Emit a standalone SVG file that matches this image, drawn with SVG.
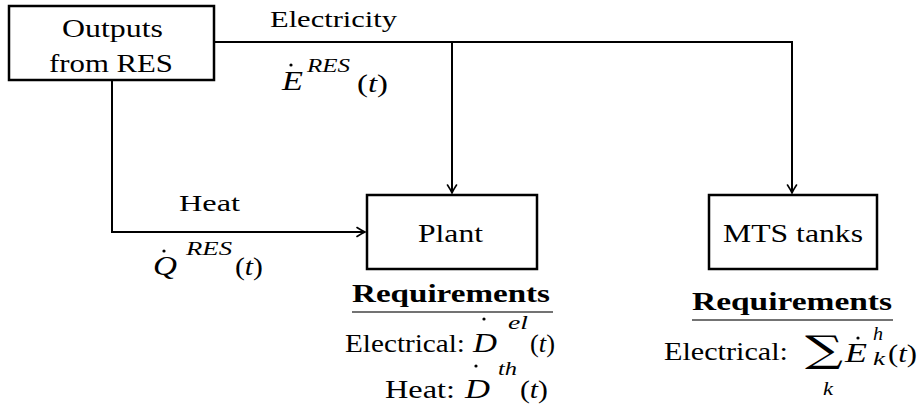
<svg xmlns="http://www.w3.org/2000/svg" width="921" height="412" viewBox="0 0 921 412" font-family="'Liberation Serif', 'DejaVu Serif', serif">
<defs>
<style>
.box{fill:#fff;stroke:#000;stroke-width:2.5}
.ln{fill:none;stroke:#000;stroke-width:2}
.it{font-style:italic}
.b{font-weight:bold}
.ul{stroke:#444;stroke-width:1.6}
.dot{fill:#000}
</style>
<marker id="arr" viewBox="-10 -6 12 12" refX="0" refY="0" markerWidth="12" markerHeight="12" markerUnits="userSpaceOnUse" orient="auto">
<path d="M-8,-4.5 Q-3,-1.2 0,0 Q-3,1.2 -8,4.5" fill="none" stroke="#000" stroke-width="1.6" stroke-linecap="round"/>
</marker>
</defs>
<rect width="921" height="412" fill="#fff"/>
<g id="connectors">
<path class="ln" d="M214,42 H792 V193" marker-end="url(#arr)"/>
<path class="ln" d="M452,42 V193" marker-end="url(#arr)"/>
<path class="ln" d="M112,80 V232 H365" marker-end="url(#arr)"/>
</g>
<g id="outputs">
<rect class="box" x="9" y="6" width="205" height="74"/>
<text font-family="Liberation Serif" x="62" y="37" font-size="26" textLength="101" lengthAdjust="spacingAndGlyphs">Outputs</text>
<text font-family="Liberation Serif" x="49" y="72" font-size="26" textLength="124" lengthAdjust="spacingAndGlyphs">from RES</text>
</g>
<g id="plant">
<rect class="box" x="367" y="195" width="170" height="74"/>
<text font-family="Liberation Serif" x="418" y="242" font-size="26" textLength="65" lengthAdjust="spacingAndGlyphs">Plant</text>
</g>
<g id="mts">
<rect class="box" x="709" y="195" width="168" height="74"/>
<text font-family="Liberation Serif" x="723" y="242" font-size="26" textLength="140" lengthAdjust="spacingAndGlyphs">MTS tanks</text>
</g>
<g id="elec-label">
<text font-family="Liberation Serif" x="270" y="27" font-size="24" textLength="127" lengthAdjust="spacingAndGlyphs">Electricity</text>
<text font-family="Liberation Serif" class="it" x="282" y="90" font-size="27" textLength="21" lengthAdjust="spacingAndGlyphs">E</text>
<circle class="dot" cx="291" cy="65" r="1.6"/>
<text font-family="Liberation Serif" class="it" x="307" y="72" font-size="18" textLength="43" lengthAdjust="spacingAndGlyphs">RES</text>
<text font-family="Liberation Serif" x="357" y="92" font-size="26" textLength="31" lengthAdjust="spacingAndGlyphs">(<tspan class="it">t</tspan>)</text>
</g>
<g id="heat-label">
<text font-family="Liberation Serif" x="179" y="211" font-size="24" textLength="61" lengthAdjust="spacingAndGlyphs">Heat</text>
<text font-family="Liberation Serif" class="it" x="153" y="275" font-size="27" textLength="24" lengthAdjust="spacingAndGlyphs">Q</text>
<circle class="dot" cx="164" cy="251" r="1.6"/>
<text font-family="Liberation Serif" class="it" x="186" y="255" font-size="18" textLength="46" lengthAdjust="spacingAndGlyphs">RES</text>
<text font-family="Liberation Serif" x="235" y="275" font-size="26" textLength="28" lengthAdjust="spacingAndGlyphs">(<tspan class="it">t</tspan>)</text>
</g>
<g id="plant-req">
<text font-family="Liberation Serif" class="b" x="352" y="302" font-size="25" textLength="198" lengthAdjust="spacingAndGlyphs">Requirements</text>
<line class="ul" x1="352" y1="312" x2="553" y2="312"/>
<text font-family="Liberation Serif" x="345" y="352" font-size="26" textLength="120" lengthAdjust="spacingAndGlyphs">Electrical:</text>
<text font-family="Liberation Serif" class="it" x="473" y="352" font-size="27" textLength="24" lengthAdjust="spacingAndGlyphs">D</text>
<circle class="dot" cx="484" cy="319" r="1.6"/>
<text font-family="Liberation Serif" class="it" x="508" y="329" font-size="18" textLength="20" lengthAdjust="spacingAndGlyphs">el</text>
<text font-family="Liberation Serif" x="530" y="352" font-size="26" textLength="25" lengthAdjust="spacingAndGlyphs">(<tspan class="it">t</tspan>)</text>
<text font-family="Liberation Serif" x="385" y="398" font-size="26" textLength="70" lengthAdjust="spacingAndGlyphs">Heat:</text>
<text font-family="Liberation Serif" class="it" x="465" y="398" font-size="27" textLength="25" lengthAdjust="spacingAndGlyphs">D</text>
<circle class="dot" cx="476" cy="366" r="1.6"/>
<text font-family="Liberation Serif" class="it" x="498" y="375" font-size="18" textLength="19" lengthAdjust="spacingAndGlyphs">th</text>
<text font-family="Liberation Serif" x="520" y="398" font-size="26" textLength="28" lengthAdjust="spacingAndGlyphs">(<tspan class="it">t</tspan>)</text>
</g>
<g id="mts-req">
<text font-family="Liberation Serif" class="b" x="692" y="310" font-size="25" textLength="200" lengthAdjust="spacingAndGlyphs">Requirements</text>
<line class="ul" x1="692" y1="320" x2="893" y2="320"/>
<text font-family="Liberation Serif" x="664" y="360" font-size="26" textLength="124" lengthAdjust="spacingAndGlyphs">Electrical:</text>
<text font-family="DejaVu Serif" x="805" y="362" font-size="37" textLength="38" lengthAdjust="spacingAndGlyphs">∑</text>
<text font-family="Liberation Serif" class="it" x="823" y="395" font-size="18" textLength="10" lengthAdjust="spacingAndGlyphs">k</text>
<text font-family="Liberation Serif" class="it" x="845" y="362" font-size="27" textLength="22" lengthAdjust="spacingAndGlyphs">E</text>
<circle class="dot" cx="858" cy="338" r="1.6"/>
<text font-family="Liberation Serif" class="it" x="873" y="340" font-size="18" textLength="10" lengthAdjust="spacingAndGlyphs">h</text>
<text font-family="Liberation Serif" class="it" x="873" y="365" font-size="18" textLength="12" lengthAdjust="spacingAndGlyphs">k</text>
<text font-family="Liberation Serif" x="888" y="362" font-size="26" textLength="29" lengthAdjust="spacingAndGlyphs">(<tspan class="it">t</tspan>)</text>
</g>
</svg>
